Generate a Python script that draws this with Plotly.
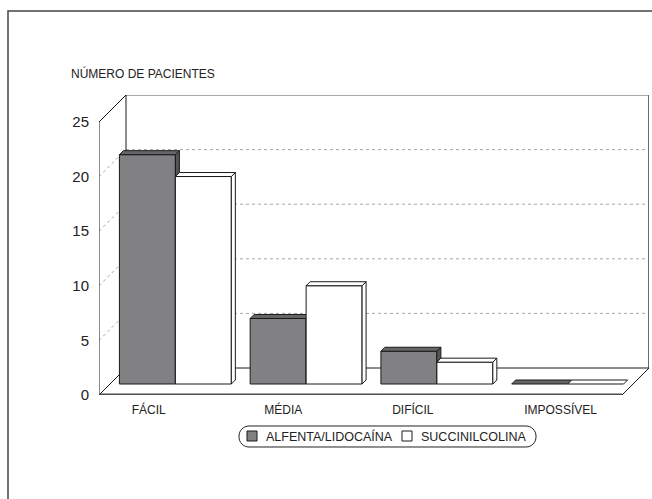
import math
import plotly.graph_objects as go

# ---- data -------------------------------------------------------------
categories = ["FÁCIL", "MÉDIA", "DIFÍCIL", "IMPOSSÍVEL"]
series_names = ["ALFENTA/LIDOCAÍNA", "SUCCINILCOLINA"]
alfenta = [21, 6, 3, 0]
succinil = [19, 9, 2, 0]
y_ticks = [0, 5, 10, 15, 20, 25]

# ---- pseudo-3D geometry (oblique projection) --------------------------
W, H = 652, 499
M_L, M_R, M_T, M_B = 99, 3, 95, 104
PLOT_W = W - M_L - M_R
PLOT_H = H - M_T - M_B
PX_PER_CAT = 130.75          # horizontal pixels per category
PX_PER_UNIT = 10.92          # vertical pixels per patient
DEPTH_PX = 27                # depth of the box (drawn at 45 degrees)
BAR_FRONT_PX = 11            # depth at which the bars stand
BAR_DEPTH_PX = 4             # thickness of each bar
BAR_W = 0.428                # bar width, in category units
LABEL_SHIFT = [-0.12, -0.09, -0.1, 0.03]   # category label nudges

X0 = -0.5
X1 = X0 + len(categories)
XR = [X0, X0 + PLOT_W / PX_PER_CAT]
YMAX = 25
YR = [0, PLOT_H / PX_PER_UNIT]


def dx(px):
    return px / PX_PER_CAT


def dy(px):
    return px / PX_PER_UNIT


DX, DY = dx(DEPTH_PX), dy(DEPTH_PX)

FONT = "Liberation Sans, Arial, sans-serif"
DARK = "#818183"
DARK_TOP = "#666668"
DARK_SIDE = "#555557"
EDGE = "#1a1a1a"
TEXT = "#222222"

fig = go.Figure()

# ---- box: floor, side wall, back wall ---------------------------------
shapes = []


def seg(x0, y0, x1, y1, color=EDGE, width=1, dash="solid"):
    shapes.append(dict(type="line", xref="x", yref="y", x0=x0, y0=y0, x1=x1, y1=y1,
                       line=dict(color=color, width=width, dash=dash), layer="below"))


# gridlines on the back wall and the side wall
for v in y_ticks[1:-1]:
    seg(X0 + DX, v + DY, X1 + DX, v + DY, color="#a8a8a8", dash="dot")
    seg(X0, v, X0 + DX, v + DY, color="#a8a8a8", dash="dot")

# back wall outline
seg(X0 + DX, YMAX + DY, X1 + DX, YMAX + DY, color="#555555")
seg(X0 + DX, DY, X0 + DX, YMAX + DY)
seg(X1 + DX, DY, X1 + DX, YMAX + DY, color="#6a6a6a", width=2)
seg(X0 + DX, DY, X1 + DX, DY)
# side wall / floor edges
seg(X0, 0, X0, YMAX)
seg(X0, YMAX, X0 + DX, YMAX + DY)
seg(X0, 0, X0 + DX, DY)
seg(X1, 0, X1 + DX, DY)
seg(X0, 0, X1, 0, color="#4d4d4d", width=3)

# ---- bars: front, top and side faces ----------------------------------
bx, by = dx(BAR_FRONT_PX), dy(BAR_FRONT_PX)
tx, ty = dx(BAR_DEPTH_PX), dy(BAR_DEPTH_PX)


def face(xs, ys, fill, name):
    fig.add_trace(go.Scatter(x=xs + xs[:1], y=ys + ys[:1], mode="lines", fill="toself",
                             fillcolor=fill, line=dict(color=EDGE, width=1), name=name,
                             hoverinfo="skip", showlegend=False))


series = [(series_names[0], alfenta, (DARK, DARK_TOP, DARK_SIDE)),
          (series_names[1], succinil, ("#ffffff", "#ffffff", "#ffffff"))]

for i, cat in enumerate(categories):
    for s, (name, vals, colors) in enumerate(series):
        v = vals[i]
        xl = i - BAR_W + s * BAR_W + bx
        xr = xl + BAR_W
        b = by
        t = by + v
        if v > 0:
            face([xl, xr, xr, xl], [b, b, t, t], colors[0], name)
            face([xr, xr + tx, xr + tx, xr], [b, b + ty, t + ty, t], colors[2], name)
        face([xl, xr, xr + tx, xl + tx], [t, t, t + ty, t + ty], colors[1], name)


# ---- legend (rounded frame with swatches) and outer frame -------------
def px_to_paper(x, y):
    return (x - M_L) / PLOT_W, (H - M_B - y) / PLOT_H


def rounded_rect(x0, y0, x1, y1, r):
    pts = []
    arcs = [(x1 - r, y0 + r, -90, 0), (x1 - r, y1 - r, 0, 90),
            (x0 + r, y1 - r, 90, 180), (x0 + r, y0 + r, 180, 270)]
    for cx, cy, a0, a1 in arcs:
        for k in range(9):
            a = math.radians(a0 + (a1 - a0) * k / 8)
            pts.append(px_to_paper(cx + r * math.cos(a), cy + r * math.sin(a)))
    return "M " + " L ".join(f"{px:.5f},{py:.5f}" for px, py in pts) + " Z"


shapes.append(dict(type="path", xref="paper", yref="paper",
                   path=rounded_rect(239, 426, 536, 447, 10),
                   line=dict(color=TEXT, width=1), fillcolor="rgba(0,0,0,0)"))

annotations = []
legend_x = [247, 402]
for (name, _, colors), lx in zip(series, legend_x):
    sx0, sy0 = px_to_paper(lx, 441)
    sx1, sy1 = px_to_paper(lx + 10, 431)
    shapes.append(dict(type="rect", xref="paper", yref="paper",
                       x0=sx0, y0=sy0, x1=sx1, y1=sy1,
                       fillcolor=colors[0], line=dict(color=EDGE, width=1)))
    ax, ay = px_to_paper(lx + 17, 436.5)
    annotations.append(dict(text=name, xref="paper", yref="paper", x=ax, y=ay,
                            xanchor="left", yanchor="middle", showarrow=False,
                            font=dict(size=12.5, family=FONT, color=TEXT)))

fx0, fy1 = px_to_paper(8, 11)
shapes.append(dict(type="rect", xref="paper", yref="paper",
                   x0=fx0, x1=3, y0=-3, y1=fy1,
                   line=dict(color="#444444", width=1.5)))

tx_title, ty_title = px_to_paper(69, 74)
annotations.append(dict(text="NÚMERO DE PACIENTES", xref="paper", yref="paper",
                        x=tx_title, y=ty_title, xanchor="left", yanchor="middle",
                        showarrow=False, font=dict(size=12, family=FONT, color=TEXT)))

fig.update_layout(
    width=W, height=H,
    margin=dict(l=M_L, r=M_R, t=M_T, b=M_B),
    paper_bgcolor="white", plot_bgcolor="white",
    font=dict(family=FONT, color=TEXT),
    shapes=shapes,
    showlegend=False,
    annotations=annotations,
    xaxis=dict(range=XR, showgrid=False, zeroline=False, showline=False,
               tickmode="array",
               tickvals=[i + d for i, d in zip(range(len(categories)), LABEL_SHIFT)],
               ticktext=categories, ticks="", ticklabelstandoff=6,
               tickfont=dict(size=12, family=FONT), fixedrange=True),
    yaxis=dict(range=YR, showgrid=False, zeroline=False, showline=False,
               tickmode="array", tickvals=y_ticks, ticks="", ticklabelstandoff=9,
               tickfont=dict(size=15, family=FONT), fixedrange=True),
)

fig.write_html("out.html")
